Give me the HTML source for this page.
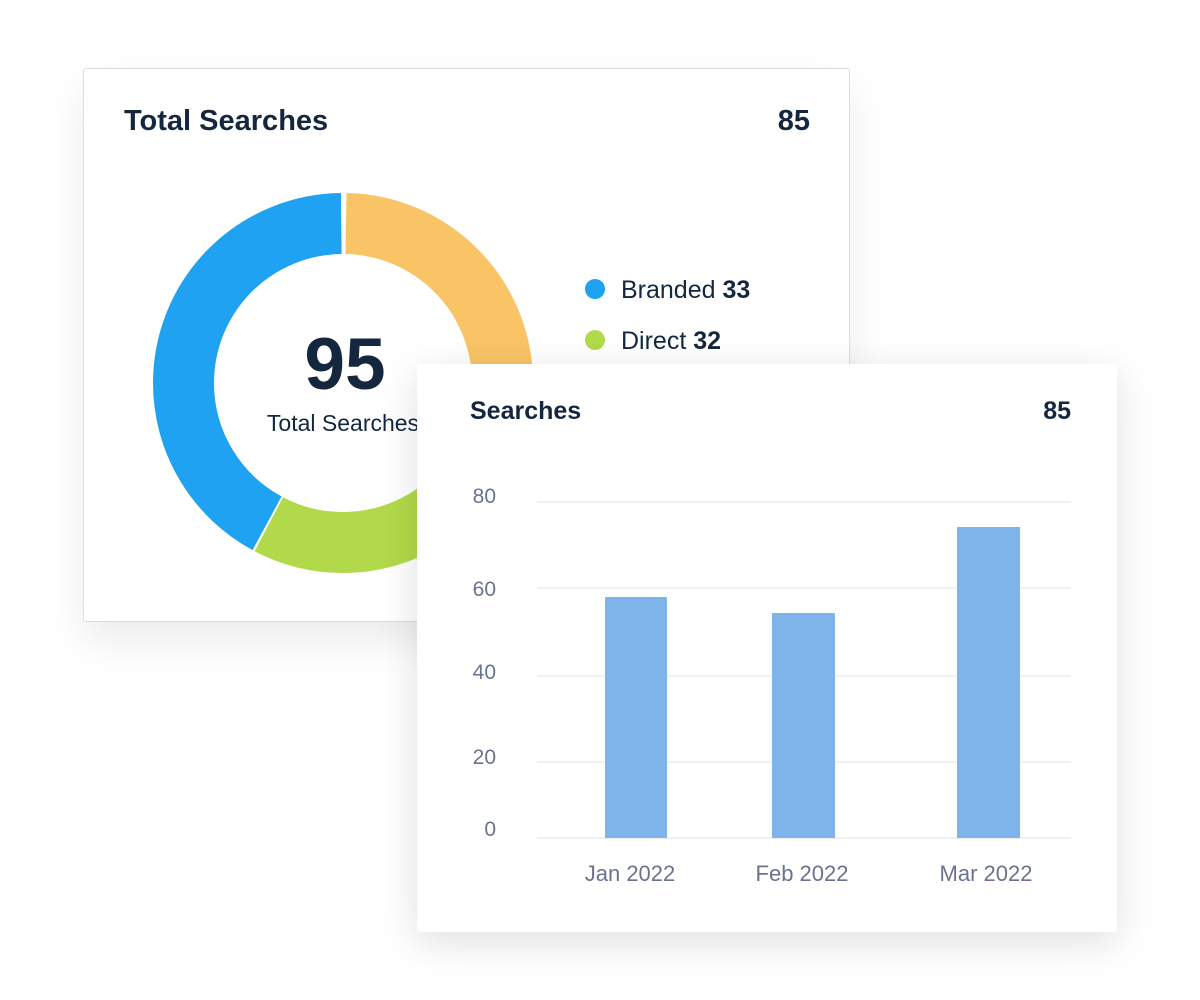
<!DOCTYPE html>
<html><head><style>
body{margin:0;width:1200px;height:1000px;background:#fff;position:relative;overflow:hidden;font-family:"Liberation Sans",sans-serif;color:#14273f}
.c1{position:absolute;left:83px;top:68px;width:765px;height:552px;background:#fff;border:1px solid #dcdcdc;border-radius:3px;box-shadow:0 20px 40px rgba(0,0,0,0.08)}
.c2{position:absolute;left:417px;top:364px;width:700px;height:568px;background:#fff;border-radius:3px;box-shadow:0 10px 40px rgba(0,0,0,0.13)}
</style></head><body>
<div class="c1"></div>
<svg style="position:absolute;left:0;top:0" width="1200" height="1000">
<g transform="rotate(-90 343 383)" fill="none" stroke-width="61">
<circle cx="343" cy="383" r="159.5" stroke="#f8c466" stroke-dasharray="302 1000" stroke-dashoffset="-3"/>
<circle cx="343" cy="383" r="159.5" stroke="#b2d94a" stroke-dasharray="269 1000" stroke-dashoffset="-309"/>
<circle cx="343" cy="383" r="159.5" stroke="#1ea2f1" stroke-dasharray="420 1000" stroke-dashoffset="-580"/>
</g>
<circle cx="595" cy="289" r="10" fill="#1ea2f1"/>
<circle cx="595" cy="340" r="10" fill="#b2d94a"/>
<text x="621" y="298" font-size="25" fill="#14273f">Branded <tspan font-weight="bold">33</tspan></text>
<text x="621" y="349" font-size="25" fill="#14273f">Direct <tspan font-weight="bold">32</tspan></text>
<text x="124" y="130" font-size="29" font-weight="bold" fill="#14273f">Total Searches</text>
<text x="810" y="130" font-size="29" font-weight="bold" fill="#14273f" text-anchor="end">85</text>
<text x="345" y="389" font-size="73" font-weight="bold" fill="#14273f" text-anchor="middle">95</text>
<text x="343" y="431" font-size="23" fill="#14273f" text-anchor="middle">Total Searches</text>
</svg>
<div class="c2"></div>
<svg style="position:absolute;left:0;top:0" width="1200" height="1000">
<text x="470" y="419" font-size="25" font-weight="bold" fill="#14273f">Searches</text>
<text x="1071" y="419" font-size="25" font-weight="bold" fill="#14273f" text-anchor="end">85</text>
<g stroke="#ececef" stroke-width="1.5">
<line x1="537" x2="1071" y1="502" y2="502"/><line x1="537" x2="1071" y1="588" y2="588"/>
<line x1="537" x2="1071" y1="676" y2="676"/><line x1="537" x2="1071" y1="762" y2="762"/>
<line x1="537" x2="1071" y1="838" y2="838"/></g>
<g font-size="21" fill="#6b7290" text-anchor="end">
<text x="496" y="503">80</text><text x="496" y="596">60</text><text x="496" y="679">40</text><text x="496" y="764">20</text><text x="496" y="836">0</text></g>
<g fill="#7db4ea"><rect x="605" y="597" width="62" height="241"/><rect x="772" y="613" width="63" height="225"/><rect x="957" y="527" width="63" height="311"/></g>
<g font-size="22" fill="#6b7290" text-anchor="middle">
<text x="630" y="881">Jan 2022</text><text x="802" y="881">Feb 2022</text><text x="986" y="881">Mar 2022</text></g>
</svg>
</body></html>
